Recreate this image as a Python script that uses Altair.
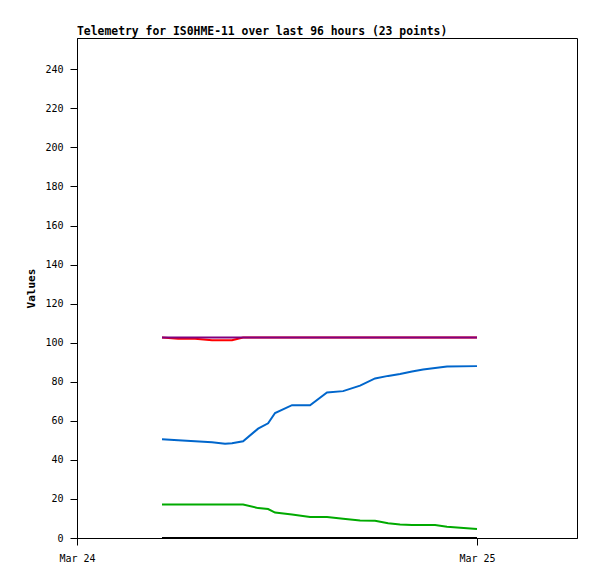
import altair as alt
import pandas as pd

times = [
    "2024-03-24T05:06:00Z", "2024-03-24T06:04:00Z", "2024-03-24T07:05:00Z",
    "2024-03-24T08:06:00Z", "2024-03-24T08:53:00Z", "2024-03-24T09:18:00Z",
    "2024-03-24T09:58:00Z", "2024-03-24T10:52:00Z", "2024-03-24T11:28:00Z",
    "2024-03-24T11:53:00Z", "2024-03-24T12:54:00Z", "2024-03-24T13:59:00Z",
    "2024-03-24T15:00:00Z", "2024-03-24T15:58:00Z", "2024-03-24T16:59:00Z",
    "2024-03-24T17:53:00Z", "2024-03-24T18:40:00Z", "2024-03-24T19:23:00Z",
    "2024-03-24T20:06:00Z", "2024-03-24T20:46:00Z", "2024-03-24T21:29:00Z",
    "2024-03-24T22:12:00Z", "2024-03-25T00:00:00Z",
]
black_vals = [0.0] * 23
green_vals = [17.2, 17.2, 17.2, 17.2, 17.2, 17.2, 17.2, 15.3, 14.8, 13.0, 12.0,
              10.8, 10.7, 9.8, 8.9, 8.8, 7.5, 6.9, 6.7, 6.6, 6.6, 5.8, 4.6]
blue_vals = [50.5, 50.0, 49.5, 49.0, 48.3, 48.5, 49.5, 56.0, 58.7, 64.0, 68.0,
             68.0, 74.5, 75.2, 78.0, 81.7, 83.0, 84.0, 85.2, 86.3, 87.0, 87.8, 88.0]
red_vals = [102.6, 102.0, 102.0, 101.3, 101.3, 101.3, 102.6, 102.6, 102.6, 102.6,
            102.6, 102.6, 102.6, 102.6, 102.6, 102.6, 102.6, 102.6, 102.6, 102.6,
            102.6, 102.6, 102.6]
purple_vals = [102.6] * 23

series = [
    ("black", black_vals, "#000000"),
    ("green", green_vals, "#00aa00"),
    ("blue", blue_vals, "#0066cc"),
    ("red", red_vals, "#ff0000"),
    ("purple", purple_vals, "#800080"),
]

x_ticks = ["2024-03-24T00:00:00Z", "2024-03-25T00:00:00Z"]
y_ticks = list(range(0, 241, 20))

FONT = "DejaVu Sans Mono"

x_enc = alt.X(
    "t:T",
    scale=alt.Scale(type="utc", domain=["2024-03-24T00:00:00Z", "2024-03-25T06:00:00Z"]),
    axis=alt.Axis(
        title=None,
        values=[pd.Timestamp(v).value // 10**6 for v in x_ticks],
        labelExpr="utcFormat(datum.value, '%b %d')",
        grid=False,
        tickSize=7,
        labelPadding=8,
        labelFlush=False,
        labelAlign="center",
        labelFont=FONT, labelFontSize=10, labelColor="black",
        domainColor="black", tickColor="black",
    ),
)
y_enc = alt.Y(
    "v:Q",
    scale=alt.Scale(domain=[0, 256], nice=False, zero=True),
    axis=alt.Axis(title="Values", values=y_ticks, grid=False, tickSize=7,
                  labelPadding=7, titlePadding=8,
                  labelFont=FONT, labelFontSize=10, labelColor="black",
                  titleFont=FONT, titleFontSize=11, titleFontWeight="bold",
                  titleColor="black", domainColor="black", tickColor="black"),
)

layers = []
for name, vals, col in series:
    df = pd.DataFrame({"t": times, "v": vals})
    layers.append(
        alt.Chart(df).mark_line(color=col, strokeWidth=2, clip=True).encode(x=x_enc, y=y_enc)
    )

chart = alt.layer(*layers).properties(
    width=500,
    height=500,
    background="white",
    title=alt.TitleParams(
        "Telemetry for IS0HME-11 over last 96 hours (23 points)",
        anchor="start", frame="group", font=FONT, fontSize=11.4, fontWeight="bold",
        color="black", offset=1,
    ),
    autosize=alt.AutoSizeParams(type="none"),
    padding={"left": 69, "top": 30, "right": 12, "bottom": 33},
).configure_view(stroke="black", strokeWidth=1)

chart.save("out.html", embed_options={"renderer": "svg", "actions": False})
